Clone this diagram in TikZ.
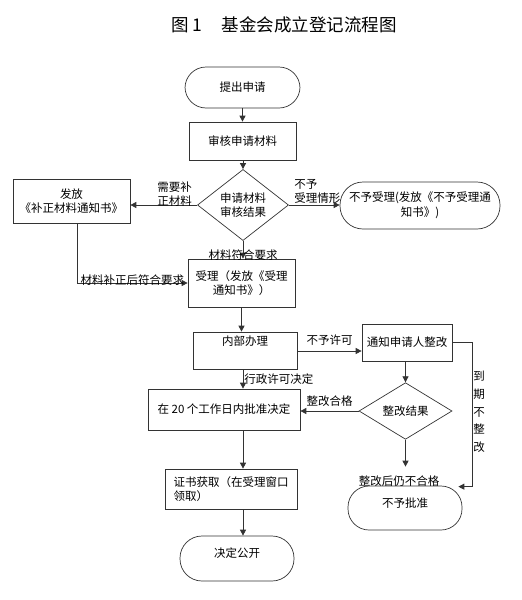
\documentclass[tikz,border=0pt]{standalone}
\usepackage{fontspec}
\setmainfont{Noto Sans CJK SC}
\usetikzlibrary{arrows.meta,shapes.geometric}
\tikzset{
  base/.style={draw=black!80, line width=0.7pt, inner sep=1pt, font=\fontsize{11.5}{14.5}\selectfont, align=center},
  procbox/.style={base, rectangle, minimum width=#1},
  termbox/.style={base, rectangle, rounded corners=21pt},
  decbox/.style={base, diamond, inner sep=0pt},
  conn/.style={draw=black!80, line width=0.8pt, -{Triangle[length=6pt,width=6pt]}},
  lbl/.style={font=\fontsize{11.5}{14.5}\selectfont, inner sep=1pt, align=center}
}
\begin{document}
\begin{tikzpicture}[x=1pt,y=-1pt]
\useasboundingbox (0,0) rectangle (522,600);
\node[font=\fontsize{17.5}{20}\selectfont] (title) at (284,25) {图 1\hspace{1.1em}基金会成立登记流程图};

\node[termbox, minimum width=115pt, minimum height=41pt] (start) at (242.5,87.5) {提出申请};
\node[procbox=107pt, minimum height=38pt] (review) at (242.5,141) {审核申请材料};
\node[decbox, minimum width=91pt, minimum height=54pt] (d1) at (243,205) {申请材料\\审核结果};
\node[procbox=117pt, minimum height=44pt] (left) at (71.5,201) {发放\\《补正材料通知书》};
\node[termbox, minimum width=160pt, minimum height=47pt, rounded corners=23pt] (rej1) at (420,205.5) {不予受理(发放《不予受理通\\知书》)};
\node[procbox=107pt, minimum height=48pt] (accept) at (241.5,283) {受理（发放《受理\\通知书》）};
\node[procbox=104pt, minimum height=37pt] (internal) at (245,350.5) {内部办理\\\strut};
\node[procbox=90pt, minimum height=37pt] (notify) at (407,342.5) {通知申请人整改};
\node[decbox, minimum width=93pt, minimum height=54pt] (d2) at (405.5,411) {整改结果};
\node[procbox=152pt, minimum height=41pt] (approve) at (224,409.5) {在 20 个工作日内批准决定};
\node[termbox, minimum width=114pt, minimum height=44pt] (rej2) at (405,508) {不予批准\\[-4pt]};
\node[procbox=132pt, minimum height=40pt, align=left] (cert) at (231,489) {证书获取（在受理窗口\\领取）};
\node[termbox, minimum width=114pt, minimum height=45pt, rounded corners=22pt] (public) at (237,558.5) {决定公开\\[-2pt]};

\draw[conn] (start) -- (review);
\draw[conn] (review.south -| d1.north) -- (d1.north);
\draw[conn] (d1.west) -- node[lbl, at start, align=left, anchor=south east, xshift=-4pt, yshift=-3pt] {需要补\\正材料} (d1.west -| left.east);
\draw[conn] (d1.east) -- node[lbl, at start, align=left, anchor=south west, xshift=4pt, yshift=0pt] {不予\\受理情形} (d1.east -| rej1.west);
\draw[conn] (d1.south) -- (d1.south |- accept.north);
\node[lbl, anchor=north] (ok1) at ([yshift=-8pt]d1.south) {材料符合要求};
\coordinate (lb) at ([xshift=5.5pt]left.south);
\draw[conn] (lb) |- node[lbl, pos=0.75, anchor=south, yshift=-4pt] {材料补正后符合要求} (accept.west);
\draw[conn] (accept.south) -- (accept.south |- internal.north);
\draw[conn] ([yshift=-0.5pt]internal.east) -- node[lbl, anchor=south, yshift=4pt] {不予许可} ([yshift=-0.5pt]internal.east -| notify.west);
\draw[conn] ([xshift=-2pt]internal.south) -- node[lbl, anchor=west, xshift=0pt] {行政许可决定} ([xshift=-2pt]internal.south |- approve.north);
\draw[conn] (notify.south -| d2.north) -- (d2.north);
\draw[conn] (d2.west) -- node[lbl, anchor=south, yshift=3pt] {整改合格} (d2.west -| approve.east);
\draw[conn, shorten >=19pt] (d2.south) -- (d2.south |- rej2.north);
\node[lbl, anchor=south, inner sep=0pt] (fail) at ([xshift=-6pt, yshift=-1pt]rej2.north) {整改后仍不合格};
\coordinate (tip) at ([xshift=-4pt, yshift=-1pt]rej2.north east);
\draw[conn] ([yshift=0.5pt]notify.east) -- ++(20,0) |- (tip);
\node[lbl, font=\fontsize{11.5}{17.7}\selectfont] (late) at (479,412) {到\\期\\不\\整\\改};
\draw[conn] ([xshift=12pt]approve.south -| cert.center) -- ([xshift=12pt]cert.north);
\draw[conn] ([xshift=12pt]cert.south) -- ([xshift=12pt]cert.south |- public.north);
\end{tikzpicture}
\end{document}
